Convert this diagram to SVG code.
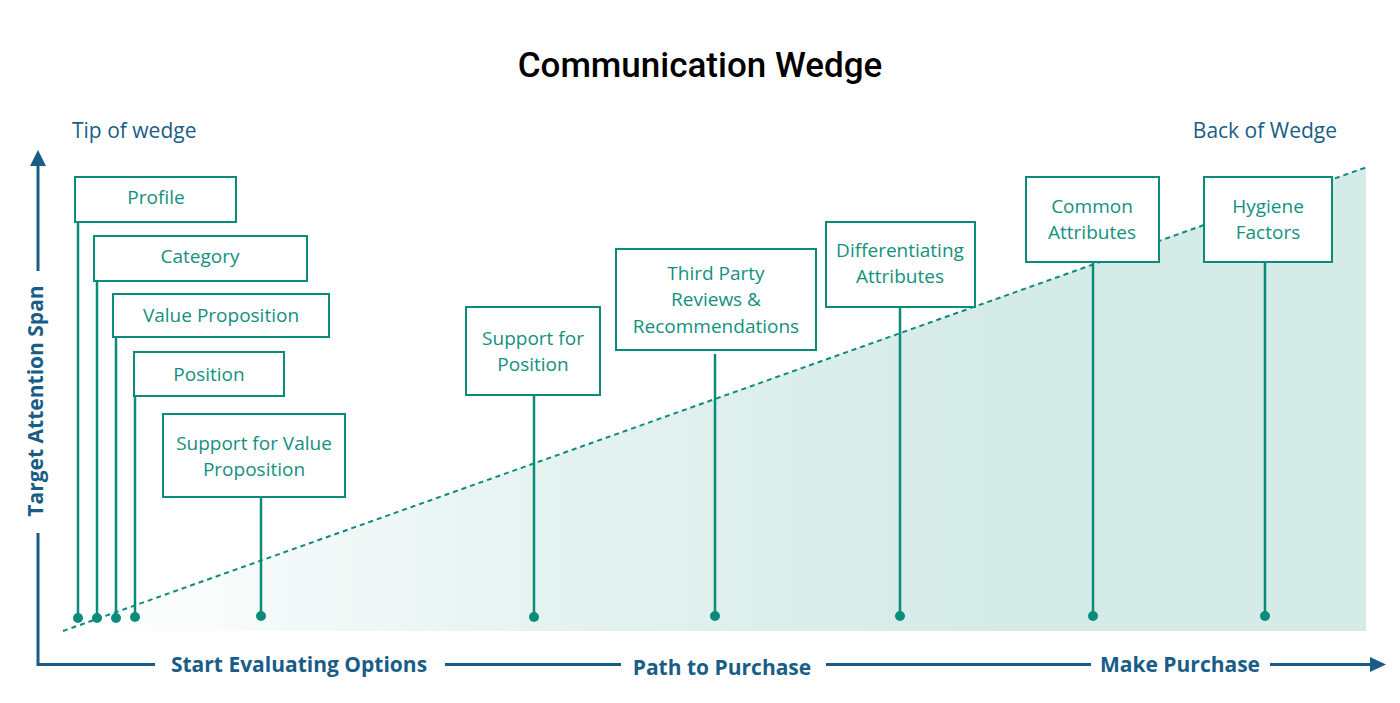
<svg xmlns="http://www.w3.org/2000/svg" width="1400" height="703" viewBox="0 0 1400 703">
<style>
.box{fill:#ffffff;stroke:#0b8c7b;stroke-width:2}
.bt{font-family:"Open Sans","Liberation Sans",sans-serif;font-size:19px;fill:#12917f;text-anchor:middle}
.lead{stroke:#0b8c7b;stroke-width:2.5;fill:none}
.dot{fill:#0b8c7b}
.ax{stroke:#195d87;stroke-width:3;fill:none}
.axt{font-family:"Open Sans","Liberation Sans",sans-serif;font-size:21px;font-weight:700;fill:#195d87;text-anchor:middle}
.lab{font-family:"Open Sans","Liberation Sans",sans-serif;font-size:21px;fill:#195d87}
</style>
<defs>
<linearGradient id="wg" gradientUnits="userSpaceOnUse" x1="90" y1="0" x2="1000" y2="0">
<stop offset="0" stop-color="#ffffff"/>
<stop offset="0.5" stop-color="#e5f3f0"/>
<stop offset="1" stop-color="#d4ebe7"/>
</linearGradient>
</defs>
<rect width="1400" height="703" fill="#ffffff"/>
<text x="700" y="77" font-family="Roboto,'Open Sans',sans-serif" font-weight="500" font-size="35" fill="#000000" text-anchor="middle">Communication Wedge</text>
<text class="lab" x="72" y="138">Tip of wedge</text>
<text class="lab" x="1337" y="138" text-anchor="end">Back of Wedge</text>
<g id="wedge">
<polygon points="62,631 1366,167 1366,631" fill="url(#wg)"/>
<line x1="63" y1="631" x2="1367" y2="167" stroke="#0b8c7b" stroke-width="2" stroke-dasharray="5,4"/>
</g>
<g id="axes">
<polyline class="ax" points="38,164 38,271"/>
<polygon points="30,166 46,166 38,150" fill="#195d87"/>
<polyline class="ax" points="38,533 38,664.5 155,664.5"/>
<line class="ax" x1="445" y1="664.5" x2="621" y2="664.5"/>
<line class="ax" x1="826" y1="664.5" x2="1091" y2="664.5"/>
<line class="ax" x1="1270" y1="664.5" x2="1372" y2="664.5"/>
<polygon points="1370,657 1370,672 1386,664.5" fill="#195d87"/>
<text class="axt" transform="translate(43,401) rotate(-90)" x="0" y="0">Target Attention Span</text>
<text class="axt" x="299" y="672">Start Evaluating Options</text>
<text class="axt" x="722" y="675">Path to Purchase</text>
<text class="axt" x="1180" y="672">Make Purchase</text>
</g>
<g id="connectors">
<line class="lead" x1="78" y1="222" x2="78" y2="618"/><circle class="dot" cx="78" cy="618" r="5"/>
<line class="lead" x1="97" y1="281" x2="97" y2="618"/><circle class="dot" cx="97" cy="618" r="5"/>
<line class="lead" x1="116" y1="337" x2="116" y2="618"/><circle class="dot" cx="116" cy="618" r="5"/>
<line class="lead" x1="135" y1="396" x2="135" y2="617"/><circle class="dot" cx="135" cy="617" r="5"/>
<line class="lead" x1="261" y1="497" x2="261" y2="616"/><circle class="dot" cx="261" cy="616" r="5"/>
<line class="lead" x1="534" y1="395" x2="534" y2="617"/><circle class="dot" cx="534" cy="617" r="5"/>
<line class="lead" x1="715" y1="354" x2="715" y2="616"/><circle class="dot" cx="715" cy="616" r="5"/>
<line class="lead" x1="900" y1="307" x2="900" y2="616"/><circle class="dot" cx="900" cy="616" r="5"/>
<line class="lead" x1="1093" y1="262" x2="1093" y2="616"/><circle class="dot" cx="1093" cy="616" r="5"/>
<line class="lead" x1="1265" y1="262" x2="1265" y2="616"/><circle class="dot" cx="1265" cy="616" r="5"/>
</g>
<g id="profile"><rect class="box" x="75" y="177" width="161" height="45"/><text class="bt" x="156" y="204">Profile</text></g>
<g id="category"><rect class="box" x="94" y="236" width="213" height="45"/><text class="bt" x="200" y="263">Category</text></g>
<g id="value-proposition"><rect class="box" x="113" y="294" width="216" height="43"/><text class="bt" x="221" y="322">Value Proposition</text></g>
<g id="position"><rect class="box" x="134" y="352" width="150" height="44"/><text class="bt" x="209" y="381">Position</text></g>
<g id="support-value-proposition"><rect class="box" x="163" y="414" width="182" height="83"/><text class="bt" x="254" y="450">Support for Value</text><text class="bt" x="254" y="476">Proposition</text></g>
<g id="support-position"><rect class="box" x="466" y="307" width="134" height="88"/><text class="bt" x="533" y="345">Support for</text><text class="bt" x="533" y="371">Position</text></g>
<g id="third-party"><rect class="box" x="616" y="249" width="200" height="101"/><text class="bt" x="716" y="280">Third Party</text><text class="bt" x="716" y="306">Reviews &amp;</text><text class="bt" x="716" y="333">Recommendations</text></g>
<g id="differentiating"><rect class="box" x="826" y="222" width="149" height="85"/><text class="bt" x="900" y="257">Differentiating</text><text class="bt" x="900" y="283">Attributes</text></g>
<g id="common"><rect class="box" x="1026" y="177" width="133" height="85"/><text class="bt" x="1092" y="213">Common</text><text class="bt" x="1092" y="239">Attributes</text></g>
<g id="hygiene"><rect class="box" x="1204" y="177" width="128" height="85"/><text class="bt" x="1268" y="213">Hygiene</text><text class="bt" x="1268" y="239">Factors</text></g>
</svg>
